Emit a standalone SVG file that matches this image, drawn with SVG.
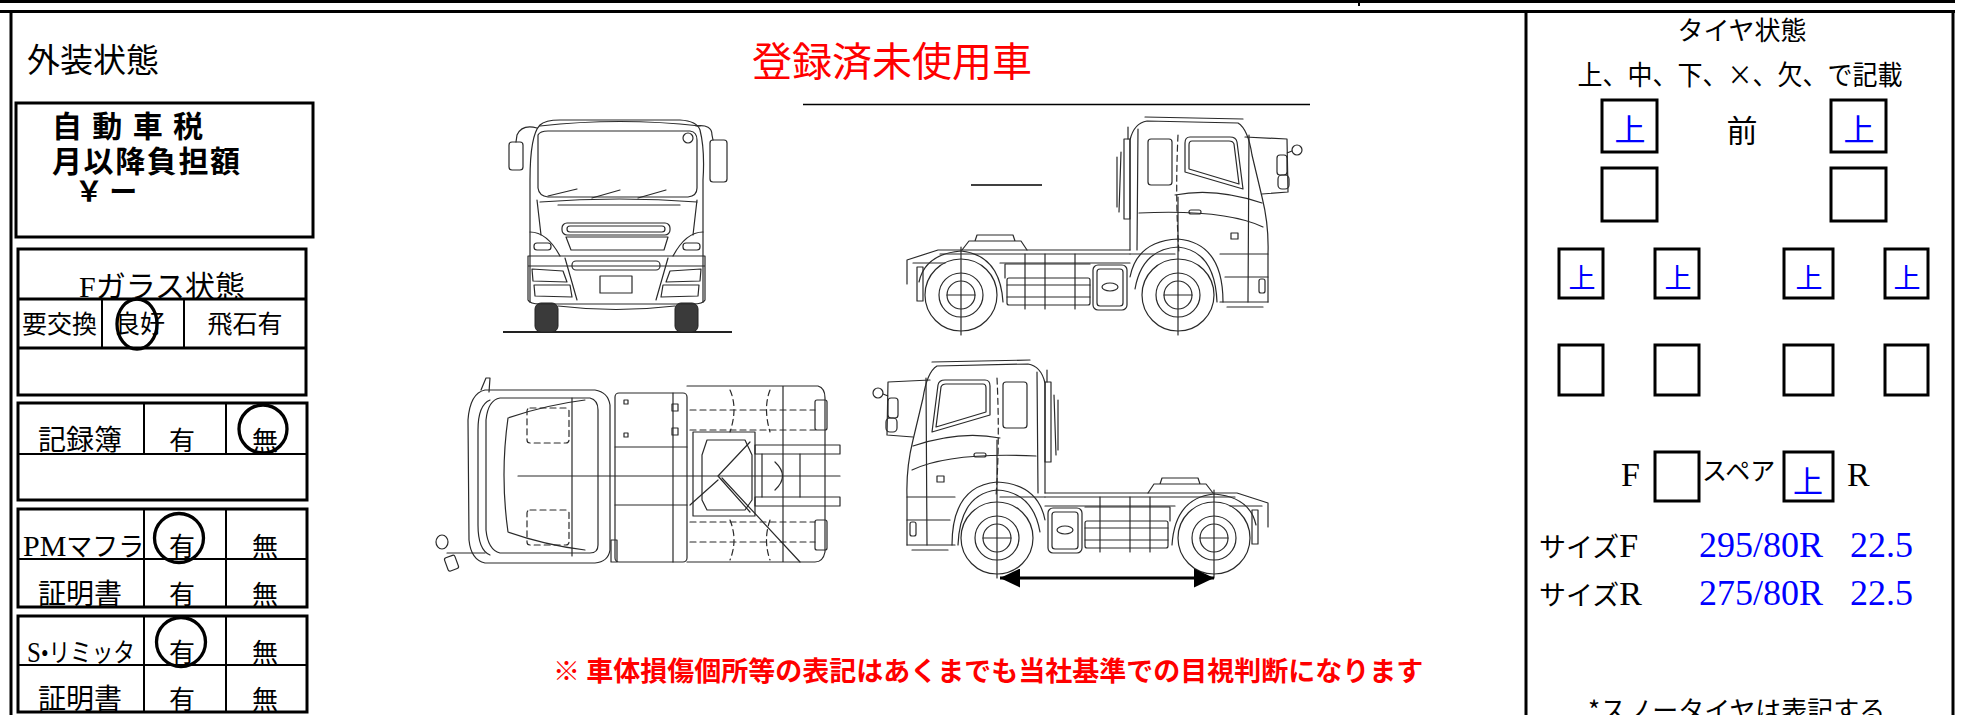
<svg xmlns="http://www.w3.org/2000/svg" xmlns:xlink="http://www.w3.org/1999/xlink" width="1961" height="715" viewBox="0 0 1961 715">
<style>
.ln{stroke:#000;stroke-width:3;fill:none}
.ln2{stroke:#000;stroke-width:2;fill:none}
.ring{stroke:#000;stroke-width:3.3;fill:none}
.mc{font-family:"Liberation Serif","Noto Sans CJK JP",serif;fill:#000}
.cj{font-family:"Noto Sans CJK JP","Liberation Serif",sans-serif;fill:#000}
.bd{font-family:"Noto Sans CJK JP","Liberation Sans",sans-serif;font-weight:700;fill:#000}
.blue{fill:#0000ff}
.red{fill:#ff0000}
.mid{text-anchor:middle}
.dr{stroke:#2a2a2a;stroke-width:1.2;fill:none;stroke-linecap:round;stroke-linejoin:round}
.dash{stroke-dasharray:6 4}
.whl{fill:#3a3a3a;stroke:#222;stroke-width:1}
</style>
<defs>
<marker id="ah" viewBox="0 0 20 19" refX="20" refY="9.5" markerWidth="20" markerHeight="19" markerUnits="userSpaceOnUse" orient="auto-start-reverse">
<path d="M0,0 L20,9.5 L0,19 Z" fill="#000"/>
</marker>
<g id="sideTruck">
<path class="dr" d="M907,545 L907,497 Q906,468 913,440 L923,398 Q927,372 937,366 L1028,364 Q1041,366 1045,383 L1045,493"/>
<path class="dr" d="M932,362 L1030,360"/>
<path class="dr" d="M1037,372 L1038,493"/>
<path class="dr" d="M932,432 L938,385 Q939,380 945,380 L985,380 Q990,380 990,386 L990,415 Z"/>
<path class="dr" d="M936,427 L941,387 Q942,384 946,384 L983,384 Q986,384 986,388 L986,412 Z"/>
<rect class="dr" x="1003" y="382" width="24" height="46" rx="3"/>
<path class="dr" d="M926,378 L927,545"/>
<path class="dr dash" d="M997,378 Q1000,440 996,497"/>
<path class="dr" d="M913,446 Q960,430 1000,438"/>
<path class="dr" d="M912,470 Q950,452 1036,456"/>
<rect class="dr" x="974" y="453" width="12" height="4" rx="2"/>
<rect class="dr" x="937" y="476" width="7" height="6"/>
<path class="dr" d="M958,545 Q960,494 997,490 Q1033,492 1040,532"/>
<path class="dr" d="M952,545 Q952,486 997,482 Q1038,484 1045,520"/>
<path class="dr" d="M907,497 L955,497 M907,520 L950,520 M907,545 L955,545 M912,550 L948,550 M1000,497 L1045,497"/>
<rect class="dr" x="910" y="522" width="6" height="14" rx="2"/>
<circle class="dr" cx="997" cy="538" r="36"/>
<circle class="dr" cx="997" cy="538" r="22"/>
<circle class="dr" cx="997" cy="538" r="14"/>
<path class="dr" d="M997,440 L997,578 M983,538 L1011,538"/>
<circle class="dr" cx="1214" cy="538" r="36"/>
<circle class="dr" cx="1214" cy="538" r="22"/>
<circle class="dr" cx="1214" cy="538" r="14"/>
<path class="dr" d="M1214,490 L1214,578 M1200,538 L1228,538"/>
<rect class="dr" x="1045" y="382" width="6" height="80"/>
<path class="dr" d="M1047,382 L1047,370 M1054,395 L1056,455 M1058,400 L1058,450"/>
<path class="dr" d="M1045,493 L1237,493 L1268,503 L1268,527 M1045,506 L1175,506 M1230,506 L1262,506 M1045,497 L1235,497"/>
<path class="dr" d="M1148,493 L1154,484 L1206,484 L1213,493 M1160,484 L1162,478 L1198,478 L1200,484"/>
<path class="dr" d="M1172,545 Q1175,498 1214,494 Q1250,497 1256,525"/>
<rect class="dr" x="1252" y="510" width="6" height="34"/>
<rect class="dr" x="1048" y="508" width="34" height="45" rx="5"/>
<rect class="dr" x="1052" y="512" width="26" height="37" rx="3"/>
<ellipse class="dr" cx="1065" cy="530" rx="8" ry="4"/>
<rect class="dr" x="1085" y="521" width="83" height="27" rx="2"/>
<path class="dr" d="M1085,528 L1168,528 M1085,540 L1168,540 M1100,497 L1100,552 M1130,497 L1130,552 M1150,497 L1150,552 M1085,507 L1170,507 L1170,521"/>
<circle class="dr" cx="878" cy="393" r="5"/>
<path class="dr" d="M883,394 L888,396 M930,380 L888,382 L887,435 L913,437"/>
<rect class="dr" x="888" y="398" width="10" height="20" rx="3"/>
<rect class="dr" x="886" y="418" width="11" height="14" rx="4"/>
</g>
</defs>
<rect x="0" y="0" width="1961" height="715" fill="#fff"/>

<g id="frame">
<line x1="0" y1="1.5" x2="1955" y2="1.5" class="ln"/>
<line x1="0" y1="11.5" x2="1955" y2="11.5" class="ln"/>
<line x1="1359" y1="3" x2="1359" y2="6" stroke="#000" stroke-width="2"/>
<line x1="11" y1="10" x2="11" y2="715" class="ln"/>
<line x1="1526" y1="10" x2="1526" y2="715" class="ln"/>
<line x1="1953" y1="10" x2="1953" y2="715" class="ln"/>
</g>

<g id="exterior-label">
<text x="27" y="72" class="cj" font-size="33">外装状態</text>
</g>

<g id="tax-box">
<rect x="16" y="103" width="297" height="134" class="ln"/>
<text class="bd" font-size="30" x="52" y="137" textLength="151" lengthAdjust="spacing">自 動 車 税</text>
<text class="bd" font-size="30" x="52" y="172" textLength="188" lengthAdjust="spacing">月以降負担額</text>
<text class="bd" font-size="28" x="75" y="202">￥ ー</text>
</g>

<g id="fglass-box">
<text class="mc mid" font-size="30" x="162" y="297">Fガラス状態</text>
<text class="cj" font-size="25" x="22" y="333">要交換</text>
<text class="cj mid" font-size="25" x="140" y="333">良好</text>
<text class="cj mid" font-size="25" x="245" y="333">飛石有</text>
<rect x="18" y="249" width="288" height="146" class="ln"/>
<line x1="18" y1="299" x2="306" y2="299" class="ln"/>
<line x1="18" y1="348" x2="306" y2="348" class="ln"/>
<line x1="102" y1="299" x2="102" y2="348" class="ln2"/>
<line x1="184" y1="299" x2="184" y2="348" class="ln2"/>
<ellipse cx="137" cy="324" rx="20" ry="25" class="ring"/>
</g>

<g id="record-box">
<text class="cj" font-size="28" x="38" y="450">記録簿</text>
<text class="cj mid" font-size="26" x="182" y="450">有</text>
<text class="cj mid" font-size="26" x="265" y="450">無</text>
<rect x="18" y="403" width="289" height="97" class="ln"/>
<line x1="18" y1="454" x2="307" y2="454" class="ln2"/>
<line x1="144" y1="403" x2="144" y2="454" class="ln2"/>
<line x1="226" y1="403" x2="226" y2="454" class="ln2"/>
<circle cx="263" cy="429" r="24" class="ring"/>
</g>

<g id="pm-muffler-box">
<text class="mc" font-size="26" x="23" y="556"><tspan font-size="30">PM</tspan>マフラ</text>
<text class="cj mid" font-size="26" x="182" y="556">有</text>
<text class="cj mid" font-size="26" x="265" y="556">無</text>
<text class="cj" font-size="28" x="38" y="604">証明書</text>
<text class="cj mid" font-size="26" x="182" y="604">有</text>
<text class="cj mid" font-size="26" x="265" y="604">無</text>
<rect x="18" y="509" width="289" height="98" class="ln"/>
<line x1="18" y1="559" x2="307" y2="559" class="ln2"/>
<line x1="144" y1="509" x2="144" y2="607" class="ln2"/>
<line x1="226" y1="509" x2="226" y2="607" class="ln2"/>
<circle cx="179" cy="538" r="24.5" class="ring"/>
</g>

<g id="speed-limiter-box">
<text class="mc" font-size="26" x="27" y="662" textLength="108" lengthAdjust="spacingAndGlyphs"><tspan font-size="30">S</tspan>•リミッタ</text>
<text class="cj mid" font-size="26" x="182" y="662">有</text>
<text class="cj mid" font-size="26" x="265" y="662">無</text>
<text class="cj" font-size="28" x="38" y="709">証明書</text>
<text class="cj mid" font-size="26" x="182" y="709">有</text>
<text class="cj mid" font-size="26" x="265" y="709">無</text>
<rect x="18" y="616" width="289" height="96" class="ln"/>
<line x1="18" y1="665" x2="307" y2="665" class="ln2"/>
<line x1="144" y1="616" x2="144" y2="712" class="ln2"/>
<line x1="226" y1="616" x2="226" y2="712" class="ln2"/>
<circle cx="181" cy="642" r="24.5" class="ring"/>
</g>

<g id="title">
<text class="cj red" font-size="40" x="752" y="76">登録済未使用車</text>
<line x1="803" y1="104.5" x2="1310" y2="104.5" stroke="#000" stroke-width="1.6"/>
<line x1="971" y1="185" x2="1042" y2="185" stroke="#000" stroke-width="1.6"/>
</g>

<g id="truck-front">
<line x1="503" y1="332" x2="732" y2="332" stroke="#222" stroke-width="1.8"/>
<rect class="whl" x="535" y="303" width="23" height="29" rx="6"/>
<rect class="whl" x="675" y="303" width="23" height="29" rx="6"/>
<path class="dr" d="M530,302 L530,180 Q530,135 540,125 Q545,120 560,120 L680,120 Q697,121 700,130 Q705,150 703,180 L703,302"/>
<path class="dr" d="M540,126 Q620,117 700,126"/>
<path class="dr" d="M538,135 Q540,131 548,131 L690,131 Q697,132 697,140 L697,188 Q697,196 688,197 L548,197 Q539,196 538,188 Z"/>
<path class="dr" d="M548,196 L577,189 M592,198 L620,190 M638,198 L666,190" stroke-width="2"/>
<path class="dr" d="M540,202 Q620,196 697,202 M558,205 L680,205"/>
<path class="dr" d="M537,200 L541,235 M697,200 L693,235"/>
<rect class="dr" x="562" y="223" width="108" height="12" rx="5"/>
<rect class="dr" x="567" y="226" width="98" height="6" rx="3"/>
<path class="dr" d="M566,237 L668,237 L664,250 L571,250 Z"/>
<path class="dr" d="M530,232 Q547,232 560,256 M703,232 Q686,232 673,256"/>
<rect class="dr" x="534" y="243" width="17" height="7" rx="3"/>
<rect class="dr" x="683" y="243" width="17" height="7" rx="3"/>
<path class="dr" d="M528,256 L705,256 M528,266 L705,266 M528,256 L528,300 Q530,304 540,304 L693,304 Q703,304 705,300 L705,256"/>
<rect class="dr" x="572" y="261" width="88" height="9" rx="4"/>
<path class="dr" d="M532,269 L563,271 L567,282 L533,281 Z M534,285 L570,285 L572,297 L535,296 Z"/>
<path class="dr" d="M701,269 L670,271 L666,282 L700,281 Z M699,285 L663,285 L661,297 L698,296 Z"/>
<path class="dr" d="M565,258 L577,300 M668,258 L656,300"/>
<rect class="dr" x="600" y="276" width="32" height="17"/>
<path class="dr" d="M558,306 Q616,313 675,306"/>
<path class="dr" d="M537,128 Q522,124 517,135 L516,142"/>
<rect class="dr" x="509" y="142" width="14" height="28" rx="3"/>
<path class="dr" d="M696,126 Q712,124 712,135 L713,140"/>
<rect class="dr" x="710" y="140" width="17" height="42" rx="3"/>
<circle class="dr" cx="688" cy="138" r="5"/>
</g>

<g id="truck-side-upper">
<use xlink:href="#sideTruck" href="#sideTruck" transform="translate(2175,-243) scale(-1,1)"/>
</g>

<g id="truck-top">
<path class="dr" d="M485,390 L595,390 Q608,392 610,405 L610,550 Q608,562 595,563 L485,563 Q471,560 469,540 L468,420 Q470,393 485,390 Z" stroke-width="1.6"/>
<path class="dr" d="M490,400 Q478,405 478,430 L478,525 Q478,550 490,555"/>
<path class="dr" d="M500,398 L590,398 Q598,400 598,410 L598,545 Q598,553 590,553 L500,553 Q488,550 486,530 L486,420 Q488,400 500,398 Z"/>
<path class="dr" d="M508,418 Q545,405 585,400 M508,532 Q545,545 585,550 M508,418 Q500,475 508,532"/>
<rect class="dr dash" x="527" y="408" width="42" height="35" rx="3"/>
<rect class="dr dash" x="527" y="510" width="42" height="35" rx="3"/>
<path class="dr" d="M572,398 L572,556 M518,476 L840,476"/>
<path class="dr" d="M481,390 L486,378 L490,378 L489,392"/>
<path class="dr" d="M447,553 L485,553"/>
<ellipse class="dr" cx="442" cy="542" rx="6" ry="7"/>
<rect class="dr" x="446" y="556" width="11" height="14" rx="2" transform="rotate(-20 452 563)"/>
<rect class="dr" x="615" y="393" width="72" height="169" rx="4"/>
<rect class="dr" x="624" y="400" width="4" height="4"/>
<rect class="dr" x="624" y="433" width="4" height="4"/>
<rect class="dr" x="672" y="404" width="6" height="7"/>
<rect class="dr" x="672" y="428" width="6" height="7"/>
<path class="dr" d="M615,447 L687,447 M615,505 L687,505 M673,393 L673,562"/>
<rect class="dr" x="611" y="540" width="6" height="22"/>
<path class="dr" d="M687,386 L818,386 Q825,388 825,398 L825,552 Q823,562 815,562 L687,562 M783,386 L783,562"/>
<path class="dr dash" d="M690,410 L815,410 M690,430 L815,430 M690,522 L815,522 M690,542 L815,542"/>
<path class="dr dash" d="M730,390 Q738,408 730,432 M770,390 Q763,408 770,432 M730,520 Q738,540 730,560 M770,520 Q763,540 770,560"/>
<rect class="dr" x="693" y="432" width="62" height="84" stroke-width="2"/>
<path class="dr" d="M707,440 L745,440 L752,455 L752,500 L745,510 L707,510 L702,500 L702,455 Z"/>
<path class="dr" d="M718,476 L750,442 M718,476 L750,512"/>
<rect class="dr" x="755" y="445" width="85" height="9"/>
<rect class="dr" x="755" y="497" width="85" height="9"/>
<path class="dr" d="M762,454 L762,497 M800,454 L800,497 M775,462 Q790,476 775,490"/>
<rect class="dr" x="815" y="400" width="12" height="30" rx="2"/>
<rect class="dr" x="815" y="520" width="12" height="30" rx="2"/>
<path class="dr" d="M722,478 L800,562 M690,505 L718,480"/>
</g>

<g id="truck-side-lower">
<use xlink:href="#sideTruck" href="#sideTruck"/>
</g>

<g id="connectors">
<line x1="1000" y1="578" x2="1214" y2="578" stroke="#000" stroke-width="3" marker-start="url(#ah)" marker-end="url(#ah)"/>
</g>

<g id="note">
<text class="bd red" font-size="27" x="553" y="681">※ 車体損傷個所等の表記はあくまでも当社基準での目視判断になります</text>
</g>

<g id="tire-panel">
<text class="cj mid" font-size="26" x="1742" y="40">タイヤ状態</text>
<text class="cj mid" font-size="27" x="1740" y="85" textLength="325" lengthAdjust="spacingAndGlyphs">上、中、下、×、欠、で記載</text>
<text class="cj mid" font-size="31" x="1742" y="142">前</text>
<g id="tire-front-left"><rect x="1602" y="100" width="55" height="52" class="ln"/><text class="cj blue mid" font-size="31" x="1630" y="141">上</text></g>
<g id="tire-front-right"><rect x="1831" y="100" width="55" height="52" class="ln"/><text class="cj blue mid" font-size="31" x="1859" y="141">上</text></g>
<g id="tire-front-left-2"><rect x="1602" y="168" width="55" height="53" class="ln"/></g>
<g id="tire-front-right-2"><rect x="1831" y="168" width="55" height="53" class="ln"/></g>
<g id="tire-rear-1"><rect x="1559" y="249" width="44" height="49" class="ln"/><text class="cj blue mid" font-size="27" x="1582" y="288">上</text></g>
<g id="tire-rear-2"><rect x="1655" y="249" width="44" height="49" class="ln"/><text class="cj blue mid" font-size="27" x="1678" y="288">上</text></g>
<g id="tire-rear-3"><rect x="1784" y="249" width="49" height="49" class="ln"/><text class="cj blue mid" font-size="27" x="1809" y="288">上</text></g>
<g id="tire-rear-4"><rect x="1885" y="249" width="43" height="49" class="ln"/><text class="cj blue mid" font-size="27" x="1907" y="288">上</text></g>
<g id="tire-rear-5"><rect x="1559" y="345" width="44" height="50" class="ln"/></g>
<g id="tire-rear-6"><rect x="1655" y="345" width="44" height="50" class="ln"/></g>
<g id="tire-rear-7"><rect x="1784" y="345" width="49" height="50" class="ln"/></g>
<g id="tire-rear-8"><rect x="1885" y="345" width="43" height="50" class="ln"/></g>
<g id="spare">
<text class="mc" font-size="34" x="1621" y="486">F</text>
<rect x="1655" y="452" width="44" height="49" class="ln"/>
<text class="cj" font-size="25" x="1702" y="480">スペア</text>
<rect x="1784" y="452" width="49" height="49" class="ln"/>
<text class="cj blue mid" font-size="30" x="1808" y="492">上</text>
<text class="mc" font-size="34" x="1847" y="486">R</text>
</g>
<g id="sizes">
<text class="mc" font-size="27" x="1539" y="557">サイズ<tspan font-size="34">F</tspan></text>
<text class="mc blue" font-size="36" y="557"><tspan x="1699">295/80R </tspan><tspan x="1850">22.5</tspan></text>
<text class="mc" font-size="27" x="1539" y="605">サイズ<tspan font-size="34">R</tspan></text>
<text class="mc blue" font-size="36" y="605"><tspan x="1699">275/80R </tspan><tspan x="1850">22.5</tspan></text>
<text class="cj" font-size="26" x="1588" y="720">*スノータイヤは表記する</text>
</g>
</g>
</svg>
